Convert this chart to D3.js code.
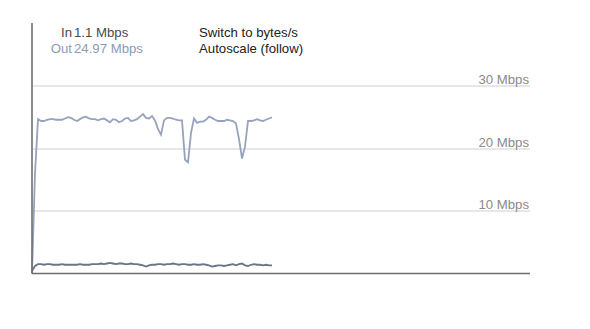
<!DOCTYPE html>
<meta charset="utf-8">
<style type="text/css">

body {
  margin: 0;
  background: #fff;
}

svg {
  font-family: "Liberation Sans", Arial, sans-serif;
  font-size: 13.2px;
}

.grid line {
  stroke: #cfcfcf;
  stroke-width: 1;
}

.grid text {
  fill: #8a8a8a;
}

.axis {
  stroke: #6e6e6e;
  stroke-width: 1.6;
}

.out {
  fill: none;
  stroke: #97a2bc;
  stroke-width: 1.8;
}

.in {
  fill: none;
  stroke: #6a7585;
  stroke-width: 1.8;
}

</style>
<svg width="590" height="329"></svg>
<script src="https://cdn.jsdelivr.net/npm/d3@7"></script>
<script>

// samples, one every tick of the window (166 slots across the plot)
var slots = 166;

var outMbps = [0, 16, 24.7, 24.4, 24.4, 24.6, 24.7, 24.7, 24.6, 24.6,
               24.6, 24.8, 25.0, 24.9, 24.6, 24.4, 24.7, 25.0, 25.1, 24.8,
               24.7, 24.7, 24.5, 24.7, 24.8, 24.5, 24.2, 24.7, 24.6, 24.2,
               24.4, 24.8, 24.9, 24.4, 24.5, 24.7, 25.1, 25.5, 24.9, 24.8,
               25.2, 24.5, 23.1, 22.2, 24.5, 24.9, 24.9, 24.8, 24.6, 24.5,
               24.5, 18.2, 17.8, 22.5, 24.8, 24.1, 24.3, 24.3, 24.6, 25.1,
               24.9, 24.6, 24.4, 24.4, 24.4, 24.6, 24.5, 24.4, 24.0, 21.5,
               18.4, 20.3, 24.4, 24.4, 24.5, 24.7, 24.5, 24.4, 24.6, 24.8,
               25.0];

var inMbps = [0.4, 1.2, 1.5, 1.5, 1.4, 1.5, 1.5, 1.4, 1.4, 1.4,
              1.5, 1.4, 1.4, 1.4, 1.4, 1.4, 1.5, 1.4, 1.4, 1.4,
              1.5, 1.5, 1.5, 1.6, 1.5, 1.6, 1.7, 1.6, 1.5, 1.6,
              1.6, 1.5, 1.5, 1.6, 1.5, 1.5, 1.4, 1.3, 1.1, 1.3,
              1.4, 1.4, 1.5, 1.5, 1.4, 1.5, 1.5, 1.6, 1.5, 1.4,
              1.5, 1.5, 1.4, 1.4, 1.5, 1.4, 1.4, 1.5, 1.4, 1.3,
              1.1, 1.2, 1.3, 1.3, 1.2, 1.3, 1.4, 1.5, 1.3, 1.5,
              1.6, 1.3, 1.2, 1.4, 1.5, 1.4, 1.4, 1.3, 1.4, 1.3,
              1.3];

var yTicks = [10, 20, 30];
var legendRows = [
  {label: "In", value: "1.1 Mbps", color: "#4a4a4a"},
  {label: "Out", value: "24.97 Mbps", color: "#8c9bb6"}
];
var options = ["Switch to bytes/s", "Autoscale (follow)"];

var svg = d3.select("svg");

var x = d3.scaleLinear().domain([0, slots]).range([32, 530]);
var y = d3.scaleLinear().domain([0, 30]).range([273.5, 86]);

// grid lines + labels
var grid = svg.append("g").attr("class", "grid");
var tick = grid.selectAll("g").data(yTicks).enter().append("g")
  .attr("transform", function(d){ return "translate(0," + Math.round(y(d)) + ")"; });
tick.append("line").attr("x1", x(0)).attr("x2", x(slots));
tick.append("text")
  .attr("x", x(slots) - 1)
  .attr("y", -2.5)
  .attr("text-anchor", "end")
  .text(function(d){ return d + " Mbps"; });

var line = d3.line()
  .x(function(d, i){ return x(i); })
  .y(function(d){ return y(d); });

svg.append("path").attr("class", "out").attr("d", line(outMbps));
svg.append("path").attr("class", "in").attr("d", line(inMbps));

// axes
svg.append("line").attr("class", "axis")
  .attr("x1", x(0)).attr("x2", x(0)).attr("y1", 23).attr("y2", y(0));
svg.append("line").attr("class", "axis")
  .attr("x1", x(0)).attr("x2", x(slots)).attr("y1", y(0)).attr("y2", y(0));

// legend
var leg = svg.selectAll(".leg").data(legendRows).enter().append("g")
  .attr("class", "leg")
  .attr("transform", function(d, i){ return "translate(0," + (37 + i * 16) + ")"; });
leg.append("text").attr("x", 72).attr("text-anchor", "end")
  .attr("fill", function(d){ return d.color; }).text(function(d){ return d.label; });
leg.append("text").attr("x", 74)
  .attr("fill", function(d){ return d.color; }).text(function(d){ return d.value; });

svg.selectAll(".opt").data(options).enter().append("text")
  .attr("class", "opt")
  .attr("x", 199)
  .attr("y", function(d, i){ return 37 + i * 16; })
  .attr("fill", "#222")
  .text(function(d){ return d; });

</script>
